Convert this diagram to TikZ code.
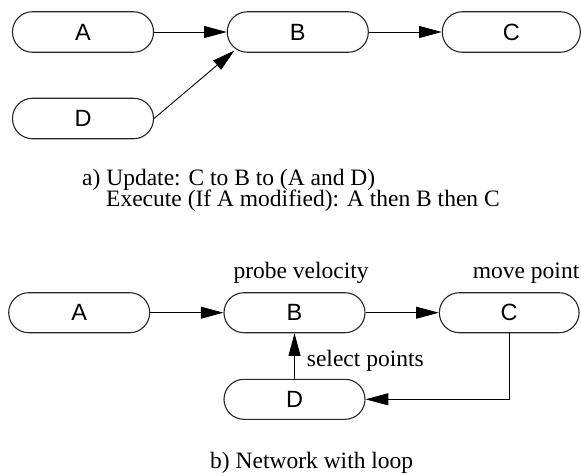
\documentclass[tikz,border=0pt]{standalone}
\usepackage{fontspec}
\setmainfont{Liberation Serif}
\newfontfamily\boxfont{Liberation Sans}
\usetikzlibrary{arrows.meta,calc}
\begin{document}
\begin{tikzpicture}[x=1pt,y=-1pt,
  blk/.style={draw=black!85, line width=1.1pt, rounded corners=20pt,
    minimum width=141pt, minimum height=40.5pt, inner sep=0pt,
    font=\boxfont\fontsize{23.5}{24}\selectfont},
  conn/.style={line width=0.9pt, -{Triangle[length=22.7pt,width=12pt]}},
  lbl/.style={font=\fontsize{23.5}{24}\selectfont, inner sep=0pt, anchor=base west}]
\useasboundingbox (0,0) rectangle (581,475);
% part a
\node[blk] (A1) at (83,32) {A};
\node[blk] (B1) at (297.8,32) {B};
\node[blk, minimum width=138pt] (C1) at (511.3,32) {C};
\node[blk] (D1) at (83,118.5) {D};
\draw[conn] (A1) -- (B1);
\draw[conn] (B1) -- (C1);
\draw[conn] (D1.east) -- ($(B1.south west)+(7.7,-2.3)$);
\node[lbl] (capA) at (82,185) {a) Update: C to B to (A and D)};
\node[lbl] (capA2) at (106,206.7) {Execute (If A modified): A then B then C};
% part b
\node[blk, minimum height=40pt] (A2) at (79.2,312.7) {A};
\node[blk, minimum height=40pt] (B2) at (294.5,312.7) {B};
\node[blk, minimum height=40pt, minimum width=139.7pt] (C2) at (509.2,312.7) {C};
\node[blk, minimum height=40pt] (D2) at (294.5,399.3) {D};
\draw[conn] (A2) -- (B2);
\draw[conn] (B2) -- (C2);
\draw[conn] (D2) -- (B2);
\draw[conn] (C2.south) |- (D2.east);
\node[lbl] (pv) at (233.3,278.3) {probe velocity};
\node[lbl] (mp) at (472.7,278.3) {move point};
\node[lbl] (sp) at (306.7,366) {select points};
\node[lbl] (capB) at (210,468.5) {b) Network with loop};
\end{tikzpicture}
\end{document}
